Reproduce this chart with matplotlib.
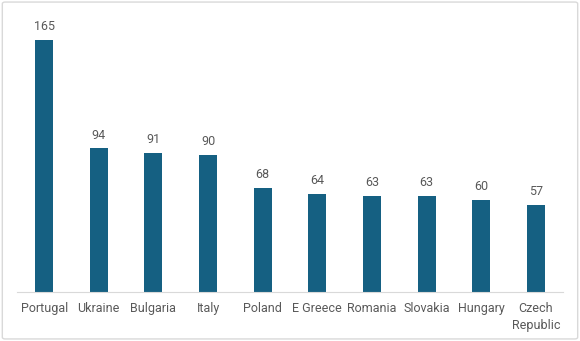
import matplotlib.pyplot as plt
from matplotlib.patches import FancyBboxPatch

countries = ["Portugal", "Ukraine", "Bulgaria", "Italy", "Poland",
             "E Greece", "Romania", "Slovakia", "Hungary", "Czech\nRepublic"]
values = [165, 94, 91, 90, 68, 64, 63, 63, 60, 57]

bar_color = "#156082"
text_color = "#595959"
plt.rcParams['font.family'] = ['Roboto', 'DejaVu Sans']

fig = plt.figure(figsize=(5.8, 3.41), dpi=100)
ax = fig.add_axes([0.029, 0.1437, 0.942, 0.806])

x = range(len(countries))
bars = ax.bar(x, values, width=0.33, color=bar_color)
for xi, v in zip(x, values):
    ax.annotate(str(v), (xi, v), xytext=(0, 5), textcoords="offset points",
                ha="center", va="bottom", fontsize=9, color=text_color)

ax.set_xlim(-0.5, len(countries) - 0.5)
ax.set_ylim(0, 180)
ax.set_xticks(list(x))
ax.set_xticklabels(countries, fontsize=9, color=text_color, linespacing=1.4)
ax.tick_params(axis="x", length=0, pad=7.5)
ax.set_yticks([])
for s in ["top", "right", "left"]:
    ax.spines[s].set_visible(False)
ax.spines["bottom"].set_color("#d9d9d9")

border = FancyBboxPatch((0.004, 0.006), 0.992, 0.988, boxstyle="round,pad=0,rounding_size=0.005",
                        transform=fig.transFigure, fill=False, edgecolor="#d9d9d9", linewidth=1)
fig.patches.append(border)

fig.savefig("out.png", dpi=100)
